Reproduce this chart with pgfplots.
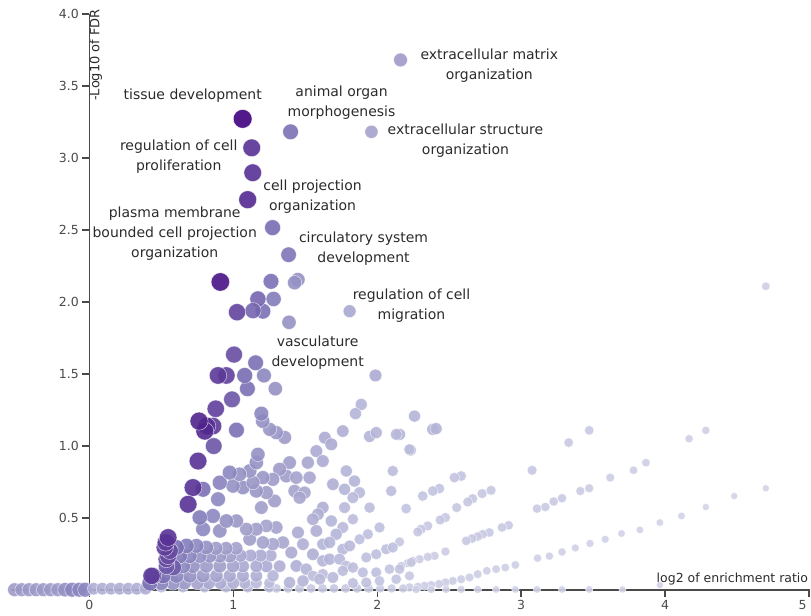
\documentclass[border=0pt]{standalone}
\usepackage{fontspec}
\setmainfont{DejaVu Sans}
\usepackage{pgfplots}
\usepackage{pgfplotstable}
\pgfplotsset{compat=1.18}
\definecolor{axisgray}{HTML}{4A4A4A}
\definecolor{ticktext}{HTML}{4A4A4A}
\definecolor{labeltext}{HTML}{2B2B2B}
\pgfplotsset{colormap={wgpurple}{rgb255=(214,214,234) rgb255=(200,200,226) rgb255=(188,189,220) rgb255=(172,170,210) rgb255=(158,154,200) rgb255=(140,135,192) rgb255=(122,112,180) rgb255=(110,90,168) rgb255=(95,62,155) rgb255=(80,35,140) rgb255=(63,0,125)}}
\tikzset{lbl/.style={align=center, font=\fontsize{14}{20}\selectfont, text=labeltext, inner sep=0pt}}

% x = log2 enrichment ratio, y = -log10 FDR, s = relative category size
\pgfplotstableread{
x y s
4.700 2.109 0.06
2.259 1.208 0.25
2.386 1.116 0.25
2.409 1.121 0.25
2.155 1.081 0.25
2.231 0.972 0.22
3.473 1.109 0.10
3.330 1.024 0.10
3.076 0.832 0.12
4.283 1.109 0.05
4.167 1.051 0.05
3.867 0.885 0.06
3.781 0.832 0.06
3.619 0.781 0.07
3.473 0.707 0.08
3.411 0.688 0.08
3.284 0.638 0.09
3.226 0.615 0.09
3.168 0.577 0.09
3.110 0.566 0.09
4.700 0.707 0.02
4.480 0.653 0.02
4.283 0.577 0.02
4.114 0.515 0.03
3.964 0.469 0.03
3.825 0.418 0.03
3.697 0.393 0.03
3.584 0.353 0.04
3.478 0.324 0.04
3.376 0.293 0.04
3.284 0.265 0.05
3.196 0.236 0.05
3.114 0.222 0.05
2.960 0.175 0.06
2.890 0.157 0.06
2.826 0.146 0.06
2.761 0.134 0.06
2.698 0.111 0.07
2.641 0.088 0.07
2.583 0.076 0.07
2.525 0.064 0.07
2.474 0.053 0.08
2.428 0.042 0.08
2.375 0.035 0.08
2.328 0.030 0.08
2.282 0.023 0.08
2.224 0.019 0.08
3.964 0.035 0.02
3.704 0.005 0.02
3.473 0.005 0.03
3.284 0.005 0.03
3.110 0.005 0.03
2.960 0.005 0.03
2.826 0.005 0.03
2.698 0.005 0.04
2.583 0.005 0.04
2.479 0.005 0.04
2.375 0.005 0.04
2.271 0.005 0.05
2.913 0.450 0.10
2.867 0.435 0.10
2.779 0.400 0.10
2.733 0.388 0.10
2.698 0.372 0.10
2.659 0.358 0.10
2.618 0.342 0.10
2.791 0.693 0.12
2.729 0.670 0.12
2.663 0.635 0.12
2.629 0.612 0.12
2.552 0.573 0.12
2.474 0.504 0.12
2.437 0.487 0.12
2.351 0.446 0.12
2.305 0.423 0.12
2.282 0.404 0.12
2.583 0.792 0.15
2.536 0.781 0.15
2.432 0.705 0.15
2.386 0.688 0.15
2.316 0.653 0.15
2.201 0.566 0.15
2.155 0.335 0.12
2.474 0.268 0.08
2.398 0.238 0.08
2.351 0.231 0.08
2.294 0.215 0.08
2.247 0.203 0.08
2.212 0.187 0.08
2.167 0.168 0.08
1.30 0.012 0.10
1.38 0.012 0.10
1.46 0.012 0.10
1.54 0.012 0.10
1.62 0.012 0.10
1.70 0.012 0.10
1.78 0.012 0.10
1.86 0.012 0.10
1.94 0.012 0.10
2.02 0.012 0.08
2.10 0.012 0.08
2.18 0.012 0.08
}\tblfan

\pgfplotstableread{
x y s
-0.52 0.003 0.40
-0.47 0.003 0.40
-0.42 0.003 0.40
-0.37 0.003 0.40
-0.32 0.003 0.40
-0.27 0.003 0.40
-0.22 0.003 0.40
-0.17 0.003 0.45
-0.12 0.003 0.50
-0.07 0.003 0.50
-0.03 0.003 0.50
0.03 0.010 0.28
0.09 0.010 0.28
0.15 0.010 0.28
0.21 0.010 0.28
0.27 0.010 0.28
0.33 0.010 0.28
0.39 0.010 0.28
1.988 1.490 0.30
1.889 1.289 0.25
1.849 1.225 0.25
1.636 1.058 0.30
1.681 1.012 0.30
1.761 1.104 0.28
1.947 1.067 0.25
1.993 1.093 0.25
2.132 1.081 0.22
2.224 0.977 0.20
1.577 0.965 0.30
1.622 0.896 0.30
1.391 0.885 0.38
1.518 0.885 0.33
1.368 0.792 0.38
1.438 0.781 0.35
1.530 0.781 0.33
1.785 0.827 0.25
1.842 0.757 0.25
1.692 0.735 0.28
1.773 0.700 0.25
1.877 0.677 0.22
1.831 0.642 0.22
2.108 0.827 0.20
2.097 0.688 0.20
1.426 0.688 0.35
1.495 0.677 0.33
1.461 0.642 0.33
1.622 0.573 0.28
1.588 0.527 0.28
1.553 0.492 0.28
1.773 0.573 0.22
1.947 0.573 0.20
1.681 0.480 0.25
1.831 0.492 0.20
1.761 0.435 0.22
2.016 0.435 0.18
1.935 0.388 0.18
1.877 0.353 0.18
1.449 0.400 0.30
1.577 0.411 0.28
1.715 0.388 0.25
1.484 0.319 0.28
1.622 0.319 0.25
1.669 0.331 0.25
1.761 0.284 0.22
1.808 0.307 0.22
1.924 0.227 0.18
1.993 0.249 0.18
2.062 0.284 0.18
2.108 0.296 0.18
1.403 0.261 0.30
1.553 0.249 0.28
1.622 0.203 0.25
1.669 0.215 0.25
1.738 0.215 0.22
2.236 0.192 0.12
1.438 0.168 0.28
1.507 0.146 0.25
1.785 0.168 0.20
1.831 0.157 0.20
1.900 0.123 0.18
1.993 0.123 0.18
2.085 0.146 0.15
2.155 0.146 0.15
1.553 0.099 0.20
1.622 0.111 0.20
1.692 0.088 0.22
1.761 0.134 0.20
1.600 0.076 0.22
1.484 0.064 0.25
1.391 0.053 0.25
1.831 0.049 0.18
1.924 0.053 0.18
2.016 0.064 0.15
2.132 0.076 0.15
2.224 0.099 0.12
}\tblmid

\pgfplotstableread{
x y s
0.50 0.020 0.20
0.65 0.020 0.20
0.80 0.020 0.20
0.95 0.020 0.20
1.10 0.020 0.20
1.25 0.020 0.20
1.25 0.049 0.20
1.16 0.049 0.22
1.08 0.049 0.25
1.00 0.049 0.28
0.91 0.049 0.30
0.83 0.049 0.32
0.75 0.049 0.35
0.66 0.049 0.40
0.58 0.049 0.45
0.50 0.049 0.50
0.42 0.049 0.60
1.276 0.099 0.25
1.160 0.099 0.28
1.067 0.099 0.30
0.975 0.099 0.32
0.883 0.099 0.35
0.790 0.099 0.40
0.697 0.099 0.45
0.605 0.099 0.50
0.512 0.099 0.60
1.322 0.166 0.28
1.230 0.166 0.30
1.160 0.166 0.30
1.067 0.166 0.32
0.998 0.166 0.35
0.906 0.166 0.38
0.813 0.166 0.40
0.720 0.166 0.45
0.651 0.166 0.50
1.26 0.240 0.28
1.19 0.240 0.30
1.12 0.240 0.30
1.05 0.240 0.33
0.975 0.236 0.38
0.906 0.236 0.40
0.836 0.236 0.42
0.767 0.236 0.45
0.697 0.236 0.50
0.628 0.236 0.55
1.02 0.290 0.36
0.95 0.290 0.38
0.88 0.290 0.40
0.813 0.296 0.45
0.744 0.307 0.50
0.675 0.307 0.55
0.605 0.296 0.60
1.345 0.331 0.33
1.275 0.319 0.33
1.206 0.331 0.35
1.114 0.353 0.38
1.299 0.435 0.35
1.230 0.446 0.35
1.160 0.423 0.38
1.091 0.423 0.38
0.906 0.411 0.45
0.790 0.423 0.50
1.022 0.480 0.42
0.952 0.480 0.45
0.859 0.515 0.50
0.767 0.504 0.55
1.287 0.619 0.38
1.195 0.573 0.38
1.230 0.677 0.40
1.160 0.688 0.42
1.067 0.712 0.45
0.998 0.723 0.45
1.322 0.839 0.40
1.275 0.769 0.40
1.206 0.781 0.42
1.137 0.746 0.42
1.114 0.827 0.45
1.044 0.804 0.45
0.894 0.631 0.50
0.790 0.700 0.60
0.906 0.746 0.52
0.975 0.816 0.50
1.160 0.885 0.45
1.171 0.942 0.45
1.357 1.060 0.40
1.299 1.093 0.42
1.253 1.116 0.42
1.204 1.173 0.45
1.022 1.111 0.60
0.864 1.000 0.72
0.755 0.896 0.85
0.720 0.712 0.85
0.686 0.596 0.85
0.582 0.157 0.70
0.536 0.166 0.70
0.536 0.215 0.75
0.547 0.236 0.75
0.559 0.272 0.75
0.524 0.296 0.80
0.531 0.331 0.80
0.547 0.365 0.85
0.443 0.099 0.75
0.432 0.099 0.80
}\tblclu

\pgfplotstableread{
x y s
1.808 1.936 0.32
1.960 3.181 0.35
2.162 3.680 0.40
1.387 1.859 0.45
1.449 2.155 0.45
1.426 2.134 0.45
1.292 1.398 0.45
1.195 1.225 0.50
1.213 1.490 0.50
1.280 2.021 0.55
1.384 2.328 0.58
1.398 3.181 0.60
1.262 2.143 0.60
1.206 1.936 0.60
1.155 1.578 0.60
1.098 1.398 0.60
1.273 2.516 0.62
1.079 1.490 0.62
1.171 2.021 0.65
1.137 1.940 0.65
0.991 1.324 0.72
1.005 1.635 0.75
1.026 1.929 0.78
0.952 1.490 0.80
0.878 1.259 0.80
0.894 1.490 0.82
0.859 1.139 0.82
0.817 1.139 0.85
1.128 3.070 0.85
1.135 2.897 0.85
1.100 2.710 0.88
0.802 1.104 0.88
0.762 1.173 0.90
0.910 2.139 0.95
1.065 3.271 1.00
}\tbltop

\pgfplotsset{dotstyle/.style={scatter, only marks, mark=*,
  point meta=\thisrow{s},
  scatter/use mapped color={draw=white, fill=mapped color},
  visualization depends on={2.6+6.8*sqrt(\thisrow{s}) \as \msz},
  scatter/@pre marker code/.append style={/tikz/mark size=\msz pt},
  line width=0.5pt, fill opacity=0.9, draw opacity=0.7}}

\begin{document}
\begin{tikzpicture}
\begin{axis}[
  scale only axis, width=799pt, height=577pt,
  xmin=-0.538, xmax=5.007, ymin=0, ymax=4,
  axis lines=middle, axis on top,
  axis line style={-, draw=axisgray, line width=1.4pt},
  hide obscured x ticks=false, hide obscured y ticks=false,
  xtick={0,1,2,3,4}, ytick={0.5,1,1.5,2,2.5,3,3.5,4},
  extra x ticks={5},
  extra x tick style={xticklabel style={anchor=north east, xshift=1pt}},
  tick align=outside, major tick length=7pt,
  tick style={draw=axisgray, line width=1.4pt},
  /pgf/number format/assume math mode=true,
  yticklabel style={/pgf/number format/fixed, /pgf/number format/fixed zerofill, /pgf/number format/precision=1},
  tick label style={font=\fontsize{12.5}{14}\selectfont, text=ticktext},
  colormap name=wgpurple, point meta min=0, point meta max=1,
  clip=false,
]
\addplot[dotstyle] table {\tblfan};
\addplot[dotstyle] table {\tblmid};
\addplot[dotstyle] table {\tblclu};
\addplot[dotstyle] table {\tbltop};

\node[lbl] at (axis cs:0.718,3.430) {tissue development};
\node[lbl] at (axis cs:1.752,3.382) {animal organ\\morphogenesis};
\node[lbl] at (axis cs:2.779,3.638) {extracellular matrix\\organization};
\node[lbl] at (axis cs:2.613,3.119) {extracellular structure\\organization};
\node[lbl] at (axis cs:0.621,3.008) {regulation of cell\\proliferation};
\node[lbl] at (axis cs:1.551,2.730) {cell projection\\organization};
\node[lbl] at (axis cs:0.593,2.474) {plasma membrane\\bounded cell projection\\organization};
\node[lbl] at (axis cs:1.905,2.370) {circulatory system\\development};
\node[lbl] at (axis cs:2.238,1.975) {regulation of cell\\migration};
\node[lbl] at (axis cs:1.586,1.649) {vasculature\\development};

\node[rotate=90, anchor=north east, inner sep=0pt, font=\fontsize{13}{14}\selectfont, text=labeltext, xshift=5pt] at (axis cs:0,4) {-Log10 of FDR};
\node[anchor=south east, inner sep=0pt, font=\fontsize{12.5}{14}\selectfont, text=labeltext, yshift=5pt] at (axis cs:4.995,0) {log2 of enrichment ratio};

\coordinate (bbsw) at (axis cs:-0.621,-0.173);
\coordinate (bbne) at (axis cs:5.014,4.096);
\end{axis}
\pgfresetboundingbox
\path[use as bounding box] (bbsw) rectangle (bbne);
\end{tikzpicture}
\end{document}
